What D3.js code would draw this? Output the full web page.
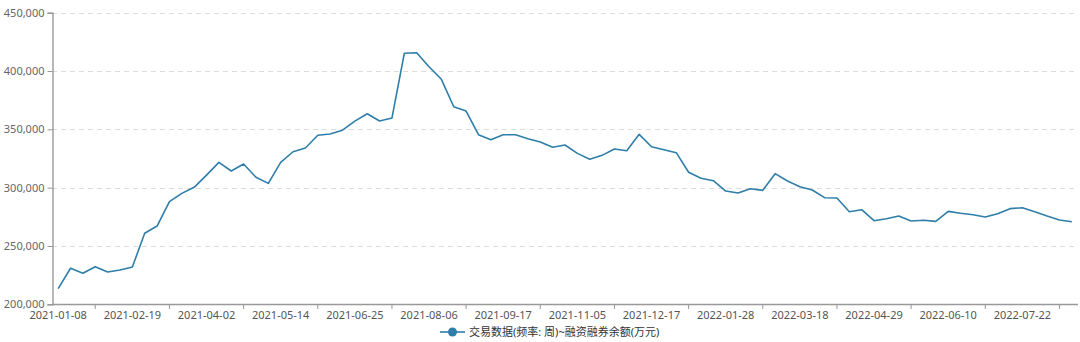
<!DOCTYPE html>
<html>
<head>
<meta charset="utf-8">
<script src="https://cdn.jsdelivr.net/npm/d3@7"></script>
<style>
  html, body { margin: 0; padding: 0; background: #fff; }
  #chart { width: 1080px; height: 342px; }
</style>
</head>
<body>
<div id="chart"></div>
<script>
var TEXTFONT = '"Noto Sans", "Noto Sans CJK SC", sans-serif';
var LINECOLOR = '#2e7ea9';
var SERIESNAME = '交易数据(频率: 周)~融资融券余额(万元)';

// weekly category dates (national day / spring festival weeks missing)
var dates = [
  '2021-01-08', '2021-01-15', '2021-01-22', '2021-01-29', '2021-02-05', '2021-02-12',
  '2021-02-19', '2021-02-26', '2021-03-05', '2021-03-12', '2021-03-19', '2021-03-26',
  '2021-04-02', '2021-04-09', '2021-04-16', '2021-04-23', '2021-04-30', '2021-05-07',
  '2021-05-14', '2021-05-21', '2021-05-28', '2021-06-04', '2021-06-11', '2021-06-18',
  '2021-06-25', '2021-07-02', '2021-07-09', '2021-07-16', '2021-07-23', '2021-07-30',
  '2021-08-06', '2021-08-13', '2021-08-20', '2021-08-27', '2021-09-03', '2021-09-10',
  '2021-09-17', '2021-09-24', '2021-10-08', '2021-10-15', '2021-10-22', '2021-10-29',
  '2021-11-05', '2021-11-12', '2021-11-19', '2021-11-26', '2021-12-03', '2021-12-10',
  '2021-12-17', '2021-12-24', '2021-12-31', '2022-01-07', '2022-01-14', '2022-01-21',
  '2022-01-28', '2022-02-11', '2022-02-18', '2022-02-25', '2022-03-04', '2022-03-11',
  '2022-03-18', '2022-03-25', '2022-04-01', '2022-04-08', '2022-04-15', '2022-04-22',
  '2022-04-29', '2022-05-06', '2022-05-13', '2022-05-20', '2022-05-27', '2022-06-03',
  '2022-06-10', '2022-06-17', '2022-06-24', '2022-07-01', '2022-07-08', '2022-07-15',
  '2022-07-22', '2022-07-29', '2022-08-05', '2022-08-12', '2022-08-19'
];

var balances = [
  213400, 230900, 226600, 232200, 227700, 229400,
  232000, 260900, 267100, 288000, 295100, 300300,
  310800, 321700, 314300, 320300, 308900, 303700,
  321700, 330800, 334000, 344900, 346000, 349300,
  357000, 363400, 357100, 359700, 415200, 415700,
  403700, 392900, 369400, 365700, 345400, 341100,
  345400, 345400, 342000, 339100, 334600, 336600,
  329400, 324300, 327700, 333100, 331700, 345700,
  335100, 332500, 330000, 313200, 308000, 306000,
  297100, 295400, 299100, 297700, 312000, 305700,
  300800, 298000, 291400, 291100, 279400, 281100,
  271700, 273400, 275700, 271400, 272000, 271100,
  279700, 278000, 276800, 274800, 277700, 282000,
  282800, 279400, 275700, 272300, 270800
];

var yTicks = [200000, 250000, 300000, 350000, 400000, 450000];

var MARGIN = { 'top' : 13, 'bottom' : 38, 'left' : 52, 'right' : 2 };

window.addEventListener('DOMContentLoaded', function () {
    var width = 1080;
    var height = 342;
    var svg = d3.select('#chart').append('svg')
        .attr('width', width).attr('height', height)
        .style('font-family', TEXTFONT);

    var plotBottom = height - MARGIN.bottom + 0.3;
    var xScale = d3.scaleBand().domain(dates).range([MARGIN.left, width - MARGIN.right]);
    var yScale = d3.scaleLinear().domain([200000, 450000]).range([plotBottom, MARGIN.top - 0.3]);
    var xMid = function (d) { return xScale(d) + xScale.bandwidth() / 2; };

    // horizontal dashed grid
    svg.append('g').selectAll('line').data(yTicks.slice(1)).join('line')
        .attr('x1', MARGIN.left).attr('x2', width - MARGIN.right)
        .attr('y1', function (d) { return Math.round(yScale(d)) + 0.5; })
        .attr('y2', function (d) { return Math.round(yScale(d)) + 0.5; })
        .attr('stroke', '#dcdcdc').attr('stroke-dasharray', '5 4');

    // y axis
    var yAxis = d3.axisLeft(yScale).tickValues(yTicks).tickSize(5).tickPadding(3)
        .tickFormat(d3.format(','));
    var yg = svg.append('g').attr('transform', 'translate(' + (MARGIN.left + 0.5) + ',0)').call(yAxis);
    yg.select('.domain').attr('stroke', '#999').attr('stroke-width', 1.4);
    yg.selectAll('.tick line').attr('stroke', '#999');
    yg.selectAll('.tick text').attr('fill', '#666').style('font-size', '11px').style('font-family', TEXTFONT);

    // x axis: labels every 6th category, ticks halfway between labels
    var labelIdx = d3.range(0, dates.length, 6);
    var tickIdx = d3.range(3, dates.length, 6);
    var xg = svg.append('g');
    xg.append('line')
        .attr('x1', MARGIN.left).attr('x2', width - MARGIN.right)
        .attr('y1', Math.round(plotBottom) + 0.5).attr('y2', Math.round(plotBottom) + 0.5)
        .attr('stroke', '#999').attr('stroke-width', 1.4);
    xg.selectAll('line.tk').data(tickIdx).join('line').attr('class', 'tk')
        .attr('x1', function (i) { return xMid(dates[i]); })
        .attr('x2', function (i) { return xMid(dates[i]); })
        .attr('y1', Math.round(plotBottom)).attr('y2', Math.round(plotBottom) + 5)
        .attr('stroke', '#999');
    xg.selectAll('text').data(labelIdx).join('text')
        .attr('x', function (i) { return xMid(dates[i]); })
        .attr('y', plotBottom + 15)
        .attr('text-anchor', 'middle')
        .attr('fill', '#555').style('font-size', '11px')
        .text(function (i) { return dates[i]; });

    // series line
    var line = d3.line()
        .x(function (d, i) { return xMid(dates[i]); })
        .y(function (d) { return yScale(d); });
    svg.append('path').datum(balances)
        .attr('d', line).attr('fill', 'none')
        .attr('stroke', LINECOLOR).attr('stroke-width', 1.6)
        .attr('stroke-linejoin', 'round');

    // legend
    var lg = svg.append('g').attr('transform', 'translate(440,332)');
    lg.append('line').attr('x1', 0).attr('x2', 25).attr('y1', 0).attr('y2', 0)
        .attr('stroke', LINECOLOR).attr('stroke-width', 1.6);
    lg.append('circle').attr('cx', 12.5).attr('cy', 0).attr('r', 4.5).attr('fill', LINECOLOR);
    lg.append('text').attr('x', 29).attr('y', 4).attr('fill', '#333')
        .style('font-size', '11px').text(SERIESNAME);
});
</script>
</body>
</html>
